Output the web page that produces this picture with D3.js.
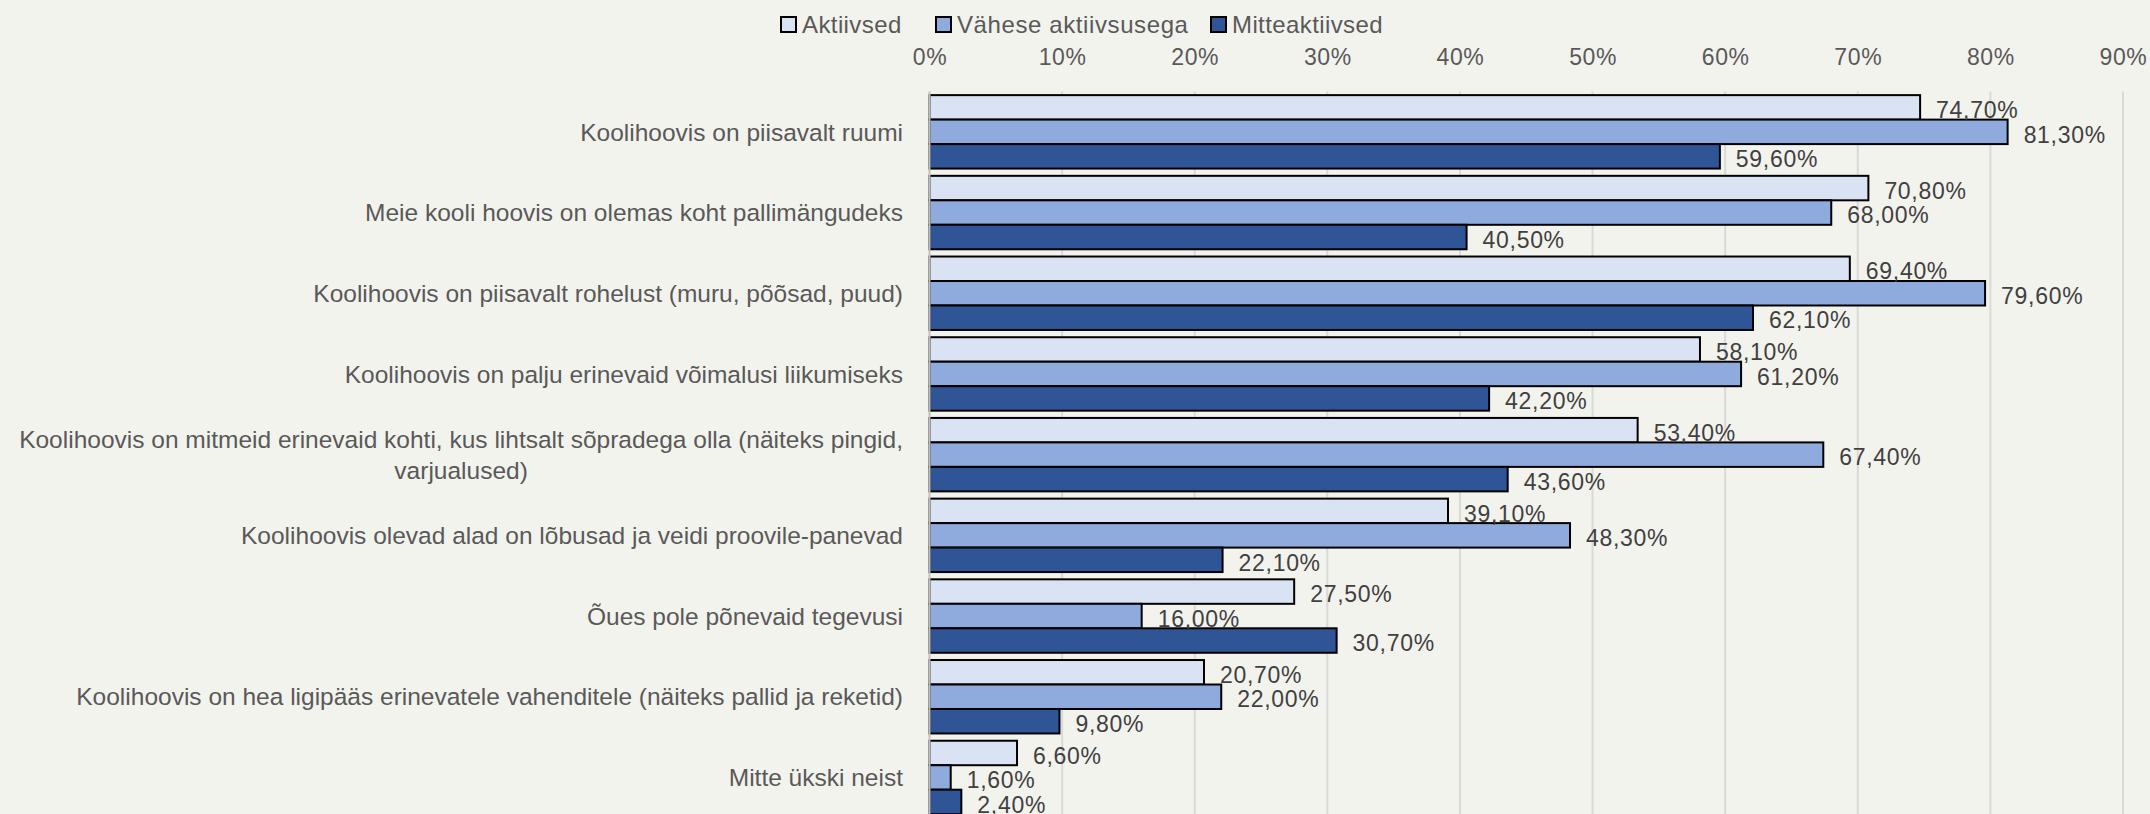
<!DOCTYPE html>
<html>
<head>
<meta charset="utf-8">
<script src="https://cdn.jsdelivr.net/npm/d3@7"></script>
<style>
  html, body { margin: 0; padding: 0; background: #f3f3ee; }
  svg { display: block; }
  text { font-family: "Liberation Sans", Arial, sans-serif; fill: #595959; }
</style>
</head>
<body>
<svg id="chart" width="2150" height="814"></svg>
<script>
const categories = [
  ["Koolihoovis on piisavalt ruumi"],
  ["Meie kooli hoovis on olemas koht pallimängudeks"],
  ["Koolihoovis on piisavalt rohelust (muru, põõsad, puud)"],
  ["Koolihoovis on palju erinevaid võimalusi liikumiseks"],
  ["Koolihoovis on mitmeid erinevaid kohti, kus lihtsalt sõpradega olla (näiteks pingid,", "varjualused)"],
  ["Koolihoovis olevad alad on lõbusad ja veidi proovile-panevad"],
  ["Õues pole põnevaid tegevusi"],
  ["Koolihoovis on hea ligipääs erinevatele vahenditele (näiteks pallid ja reketid)"],
  ["Mitte ükski neist"]
];
const seriesNames = ["Aktiivsed", "Vähese aktiivsusega", "Mitteaktiivsed"];
const aktiivsed = [74.7, 70.8, 69.4, 58.1, 53.4, 39.1, 27.5, 20.7, 6.6];
const vaheseAktiivsusega = [81.3, 68.0, 79.6, 61.2, 67.4, 48.3, 16.0, 22.0, 1.6];
const mitteaktiivsed = [59.6, 40.5, 62.1, 42.2, 43.6, 22.1, 30.7, 9.8, 2.4];
const tickValues = [0, 10, 20, 30, 40, 50, 60, 70, 80, 90];
const colors = ["#dae3f3", "#8faadc", "#2f5597"];

const seriesValues = [aktiivsed, vaheseAktiivsusega, mitteaktiivsed];
const svg = d3.select("#chart");

const plotLeft = 929.5, plotRight = 2123, plotTop = 91.5, plotBottom = 817.8;

const x = d3.scaleLinear().domain([0, 90]).range([plotLeft, plotRight]);
const y = d3.scaleBand().domain(d3.range(categories.length))
  .range([plotTop, plotBottom]).paddingInner(0.09).paddingOuter(0.045);
const ySub = d3.scaleBand().domain(d3.range(seriesNames.length))
  .range([0, y.bandwidth()]).padding(0);

// gridlines
svg.append("g").selectAll("line").data(tickValues.filter(d => d > 0)).join("line")
  .attr("x1", d => x(d)).attr("x2", d => x(d))
  .attr("y1", plotTop).attr("y2", 814)
  .attr("stroke", "#d9d9d9").attr("stroke-width", 2);

// top axis tick labels
const xAxis = d3.axisTop(x).tickValues(tickValues).tickSize(0).tickPadding(0)
  .tickFormat(d => d + "%");
const gx = svg.append("g").attr("transform", `translate(0,65)`).call(xAxis);
gx.select(".domain").remove();
gx.selectAll("text").attr("font-size", 23).attr("fill", "#595959")
  .attr("letter-spacing", 0.6)
  .attr("font-family", "Liberation Sans, Arial, sans-serif").attr("dy", 0);

// bars
const groups = svg.append("g").selectAll("g").data(categories).join("g")
  .attr("transform", (d, i) => `translate(0,${y(i)})`);

seriesValues.forEach((vals, s) => {
  groups.append("rect")
    .attr("x", x(0))
    .attr("y", ySub(s))
    .attr("width", (d, i) => x(vals[i]) - x(0))
    .attr("height", ySub.bandwidth())
    .attr("fill", colors[s])
    .attr("stroke", "#000").attr("stroke-width", 2);
});

// data labels
const fmt = v => v.toFixed(2).replace(".", ",") + "%";
seriesValues.forEach((vals, s) => {
  groups.append("text")
    .attr("x", (d, i) => x(vals[i]) + 16)
    .attr("y", ySub(s) + ySub.bandwidth() / 2 + 10.7)
    .attr("font-size", 23)
    .attr("letter-spacing", 0.7)
    .style("fill", "#404040")
    .text((d, i) => fmt(vals[i]));
});

// left axis line
svg.append("line").attr("x1", x(0)).attr("x2", x(0))
  .attr("y1", plotTop).attr("y2", 814)
  .attr("stroke", "#bfbfbf").attr("stroke-width", 2);

// category labels
const labelRight = 903;
const lineGap = 31.5;
const catFont = 24.5;
groups.each(function(lines, i) {
  const g = d3.select(this);
  const cy = y.bandwidth() / 2;
  if (lines.length === 1) {
    g.append("text").attr("x", labelRight).attr("y", cy + 8.7)
      .attr("text-anchor", "end").attr("font-size", catFont).text(lines[0]);
  } else {
    const t1 = g.append("text").attr("x", labelRight).attr("y", cy - lineGap / 2 + 8.7)
      .attr("text-anchor", "end").attr("font-size", catFont).text(lines[0]);
    const w = t1.node().getComputedTextLength();
    g.append("text").attr("x", labelRight - w / 2).attr("y", cy + lineGap / 2 + 8.7)
      .attr("text-anchor", "middle").attr("font-size", catFont).text(lines[1]);
  }
});

// legend
const legendX = [781, 936, 1211];
const legend = svg.append("g");
seriesNames.forEach((name, s) => {
  legend.append("rect").attr("x", legendX[s]).attr("y", 17).attr("width", 15).attr("height", 15)
    .attr("fill", colors[s]).attr("stroke", "#000").attr("stroke-width", 2);
  legend.append("text").attr("x", legendX[s] + 21).attr("y", 33)
    .attr("font-size", 24).attr("letter-spacing", s === 1 ? 0.6 : 0.4).text(name);
});
</script>
</body>
</html>
